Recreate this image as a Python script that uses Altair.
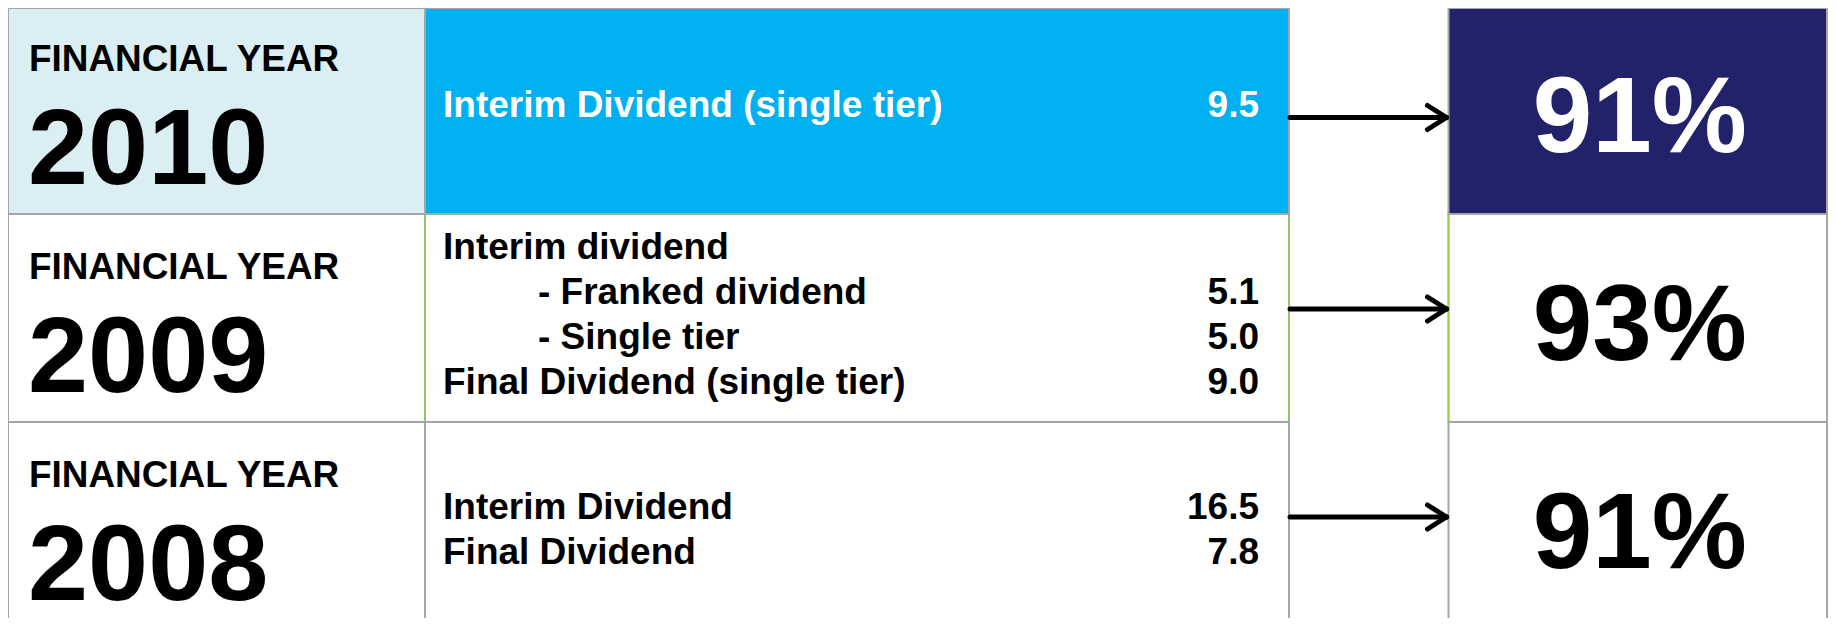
import altair as alt
import pandas as pd

# ---------------- data ----------------
years = ["2010", "2009", "2008"]
year_caption = "FINANCIAL YEAR"
payout_ratio = ["91%", "93%", "91%"]
highlight_year = "2010"

item_year = ["2010", "2009", "2009", "2009", "2009", "2008", "2008"]
item_label = [
    "Interim Dividend (single tier)",
    "Interim dividend",
    "- Franked dividend",
    "- Single tier",
    "Final Dividend (single tier)",
    "Interim Dividend",
    "Final Dividend",
]
item_value = ["9.5", "", "5.1", "5.0", "9.0", "16.5", "7.8"]
item_level = [0, 0, 1, 1, 0, 0, 0]

# ---------------- layout (chart pixel space) ----------------
W, H = 1821, 610
ROW_H = 208
ROW0 = -2
COL1 = (0, 417)
COL2 = (417, 1281)
COL3 = (1440.5, 1819)
TEXT_MID = [111, 112, 119]
LINE_GAP = 45
ARROW_Y = [111.5, 95, 95]

FONT = "Liberation Sans"
GRAY = "#A6A6A6"
GREEN = "#92D050"
LIGHT = "#DAEEF3"
CYAN = "#00B0F0"
NAVY = "#22226A"


def row_top(i):
    return ROW0 + i * ROW_H


cells, captions, yrs, labels, values, pcts, rules, greens = [], [], [], [], [], [], [], []
for i, yr in enumerate(years):
    top = row_top(i)
    hi = yr == highlight_year
    y1, y2 = max(top, 0), top + ROW_H
    cells.append(dict(x=COL1[0], x2=COL1[1], y=y1, y2=y2, fill=LIGHT if hi else "white"))
    cells.append(dict(x=COL2[0], x2=COL2[1], y=y1, y2=y2, fill=CYAN if hi else "white"))
    cells.append(dict(x=COL3[0], x2=COL3[1], y=y1, y2=y2, fill=NAVY if hi else "white"))
    captions.append(dict(x=21, y=top + 65, t=year_caption))
    yrs.append(dict(x=20, y=top + 178, t=yr))
    pcts.append(dict(x=(COL3[0] + COL3[1]) / 2 + 2, y=top + 146, t=payout_ratio[i],
                     c="white" if hi else "black"))
    idx = [k for k, y in enumerate(item_year) if y == yr]
    n = len(idx)
    for j, k in enumerate(idx):
        base = top + TEXT_MID[i] + (j - (n - 1) / 2) * LINE_GAP
        labels.append(dict(x=435 if item_level[k] == 0 else 530, y=base, t=item_label[k],
                           c="white" if hi else "black"))
        if item_value[k]:
            values.append(dict(x=1251, y=base, t=item_value[k], c="white" if hi else "black"))
    ay = top + ARROW_Y[i]
    tip = COL3[0] - 2
    rules.append(dict(x=COL2[1] + 1, x2=tip, y=ay, y2=ay))
    rules.append(dict(x=tip - 19, x2=tip, y=ay - 12, y2=ay))
    rules.append(dict(x=tip - 19, x2=tip, y=ay + 12, y2=ay))
    if i == 1:
        for gx in (COL1[1], COL2[1], COL3[0]):
            greens.append(dict(x=gx, x2=gx, y=top + 1, y2=top + ROW_H - 1))

xs = alt.Scale(domain=[0, W], range=[0, W], nice=False, zero=False)
ys = alt.Scale(domain=[0, H], range=[0, H], nice=False, zero=False)
X = lambda f="x": alt.X(f"{f}:Q", scale=xs, axis=None)
Y = lambda f="y": alt.Y(f"{f}:Q", scale=ys, axis=None)

cell_layer = alt.Chart(pd.DataFrame(cells)).mark_rect(stroke=GRAY, strokeWidth=2).encode(
    x=X(), x2="x2:Q", y=Y(), y2="y2:Q", fill=alt.Fill("fill:N", scale=None)
)
green_layer = alt.Chart(pd.DataFrame(greens)).mark_rule(color=GREEN, strokeWidth=1.5).encode(
    x=X(), x2="x2:Q", y=Y(), y2="y2:Q"
)
caption_layer = alt.Chart(pd.DataFrame(captions)).mark_text(
    font=FONT, fontWeight="bold", fontSize=36.9, align="left", baseline="alphabetic", color="black"
).encode(x=X(), y=Y(), text="t:N")
year_layer = alt.Chart(pd.DataFrame(yrs)).mark_text(
    font=FONT, fontWeight="bold", fontSize=108, align="left", baseline="alphabetic", color="black"
).encode(x=X(), y=Y(), text="t:N")
label_layer = alt.Chart(pd.DataFrame(labels)).mark_text(
    font=FONT, fontWeight="bold", fontSize=37, align="left", baseline="alphabetic"
).encode(x=X(), y=Y(), text="t:N", color=alt.Color("c:N", scale=None))
value_layer = alt.Chart(pd.DataFrame(values)).mark_text(
    font=FONT, fontWeight="bold", fontSize=37, align="right", baseline="alphabetic"
).encode(x=X(), y=Y(), text="t:N", color=alt.Color("c:N", scale=None))
pct_layer = alt.Chart(pd.DataFrame(pcts)).mark_text(
    font=FONT, fontWeight="bold", fontSize=107, align="center", baseline="alphabetic"
).encode(x=X(), y=Y(), text="t:N", color=alt.Color("c:N", scale=None))
arrow_layer = alt.Chart(pd.DataFrame(rules)).mark_rule(
    color="black", strokeWidth=5, strokeCap="round"
).encode(x=X(), x2="x2:Q", y=Y(), y2="y2:Q")

chart = alt.layer(
    cell_layer, green_layer, caption_layer, year_layer, label_layer, value_layer, pct_layer, arrow_layer
).properties(
    width=W, height=H, padding=0, autosize=alt.AutoSizeParams(type="none"), background="white"
).configure_view(stroke=None)

chart.save("out.html", embed_options={"renderer": "svg", "actions": False})
